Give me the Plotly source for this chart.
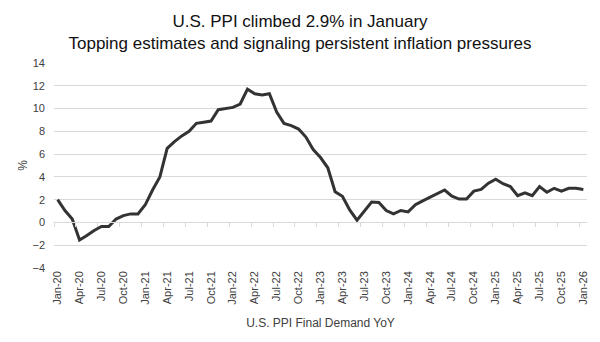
import plotly.graph_objects as go

# Monthly U.S. PPI Final Demand YoY (%), Jan-2020 .. Jan-2026
values_2020 = [2.0, 1.05, 0.3, -1.55, -1.15, -0.7, -0.35, -0.35, 0.3, 0.6, 0.75, 0.75]
values_2021 = [1.55, 2.85, 4.0, 6.5, 7.1, 7.6, 8.0, 8.7, 8.8, 8.9, 9.9, 10.0]
values_2022 = [10.1, 10.4, 11.7, 11.3, 11.2, 11.3, 9.7, 8.7, 8.5, 8.2, 7.5, 6.4]
values_2023 = [5.7, 4.8, 2.7, 2.3, 1.1, 0.2, 1.05, 1.8, 1.75, 1.05, 0.75, 1.05]
values_2024 = [0.93, 1.55, 1.9, 2.2, 2.5, 2.85, 2.3, 2.05, 2.05, 2.75, 2.9, 3.45]
values_2025 = [3.8, 3.4, 3.15, 2.35, 2.6, 2.35, 3.15, 2.65, 3.0, 2.75, 3.0, 3.0]
values_2026 = [2.9]

ppi = values_2020 + values_2021 + values_2022 + values_2023 + values_2024 + values_2025 + values_2026

month_names = ["Jan", "Feb", "Mar", "Apr", "May", "Jun", "Jul", "Aug", "Sep", "Oct", "Nov", "Dec"]
years = ["20", "21", "22", "23", "24", "25", "26"]
month_labels = [f"{m}-{y}" for y in years for m in month_names][: len(ppi)]

tick_step = 3
tick_idx = list(range(0, len(ppi), tick_step))
tick_labels = [month_labels[i] for i in tick_idx]

y_ticks = [-4, -2, 0, 2, 4, 6, 8, 10, 12, 14]

title_text = "U.S. PPI climbed 2.9% in January<br>Topping estimates and signaling persistent inflation pressures"
x_title = "U.S. PPI Final Demand YoY"
y_title = "%"

FONT = "Liberation Sans, Arial, sans-serif"
GRID = "#d9d9d9"
TXT = "#404040"

xs = list(range(len(ppi)))

fig = go.Figure()
fig.add_trace(go.Scatter(
    x=xs, y=ppi, mode="lines",
    line=dict(color="#333333", width=3),
    showlegend=False,
))
# helper trace so that the zero-line axis (with tick marks) is drawn
fig.add_trace(go.Scatter(x=[], y=[], xaxis="x2", yaxis="y", showlegend=False, hoverinfo="skip"))

y_min, y_max = -4, 14

fig.update_layout(
    width=600, height=342,
    margin=dict(l=54, r=13, t=63, b=74, autoexpand=False),
    paper_bgcolor="white", plot_bgcolor="white",
    font=dict(family=FONT, color=TXT, size=11),
    title=dict(
        text=title_text,
        font=dict(family=FONT, size=17, color="#111111"),
        x=0.5, xref="container", xanchor="center",
        y=1 - 27 / 342, yref="container", yanchor="top",
    ),
    xaxis=dict(
        range=[-0.5, len(ppi) - 0.5],
        tickmode="array", tickvals=tick_idx, ticktext=tick_labels,
        tickangle=-90, ticks="", showgrid=False, zeroline=False, showline=False,
        tickfont=dict(size=11, color=TXT),
        title=dict(text=x_title, font=dict(size=12, color=TXT), standoff=14),
        automargin=False,
    ),
    xaxis2=dict(
        overlaying="x", anchor="free",
        position=(0 - y_min) / (y_max - y_min),
        range=[-0.5, len(ppi) - 0.5],
        tickmode="array", tickvals=[i - 0.5 for i in tick_idx],
        ticks="outside", ticklen=4, tickcolor=GRID, tickwidth=1,
        showticklabels=False, showgrid=False, zeroline=False,
        showline=True, linecolor=GRID, linewidth=1,
    ),
    yaxis=dict(
        range=[y_min, y_max], tickmode="array", tickvals=y_ticks,
        showgrid=True, gridcolor=GRID, gridwidth=1, zeroline=False,
        ticks="", tickfont=dict(size=11, color=TXT), ticklabelstandoff=8,
        title=dict(text=y_title, font=dict(size=12, color=TXT), standoff=2),
        automargin=False,
    ),
)

fig.write_html("out.html")
